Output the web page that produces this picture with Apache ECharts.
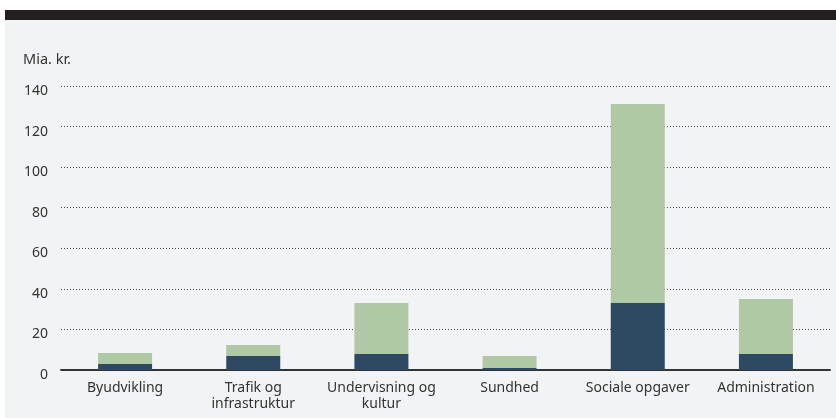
<!DOCTYPE html>
<html>
<head>
<meta charset="utf-8">
<script src="https://cdn.jsdelivr.net/npm/echarts@6/dist/echarts.min.js"></script>
<style>
html,body{margin:0;padding:0;background:#fff;}
#c{width:836px;height:418px;}
</style>
</head>
<body>
<div id="c"></div>
<script>
const categories = ['Byudvikling', 'Trafik og\ninfrastruktur', 'Undervisning og\nkultur', 'Sundhed', 'Sociale opgaver', 'Administration'];
const darkValues = [3.0, 6.9, 7.9, 1.0, 33.0, 7.9];
const greenValues = [5.4, 5.4, 25.1, 5.9, 98.1, 27.1];
const yTicks = [0, 20, 40, 60, 80, 100, 120, 140];
const unitLabel = 'Mia. kr.';

const chart = echarts.init(document.getElementById('c'), null, {renderer: 'canvas'});
const font = '"Noto Sans", "Open Sans", sans-serif';
chart.setOption({
  animation: false,
  backgroundColor: 'transparent',
  graphic: [
    {type: 'rect', z: -10, shape: {x: 5, y: 20, width: 831, height: 398}, style: {fill: '#f2f3f5'}},
    {type: 'rect', z: -10, shape: {x: 5, y: 10, width: 831, height: 10}, style: {fill: '#231f20'}},
    {type: 'text', left: 23, top: 52, style: {text: unitLabel, fill: '#333', font: '14.5px ' + font}}
  ],
  grid: {left: 61, right: 6, top: 86, bottom: 48, containLabel: false},
  xAxis: {
    type: 'category',
    data: categories,
    axisLine: {show: true, lineStyle: {color: '#333', width: 2}},
    axisTick: {show: false},
    axisLabel: {color: '#333', fontSize: 14, fontFamily: font, margin: 10, lineHeight: 16, interval: 0}
  },
  yAxis: {
    type: 'value',
    min: yTicks[0],
    max: yTicks[yTicks.length - 1],
    interval: 20,
    axisLine: {show: false},
    axisTick: {show: false},
    axisLabel: {color: '#333', fontSize: 14, fontFamily: font, margin: 13, verticalAlign: 'top', lineHeight: 10},
    splitLine: {show: true, lineStyle: {color: '#4a4a4a', width: 1, type: [1, 2]}}
  },
  series: [
    {type: 'bar', stack: 'a', data: darkValues, barWidth: 54, itemStyle: {color: '#2d4a62'}},
    {type: 'bar', stack: 'a', data: greenValues, barWidth: 54, itemStyle: {color: '#afc9a5'}}
  ]
});
</script>
</body>
</html>
